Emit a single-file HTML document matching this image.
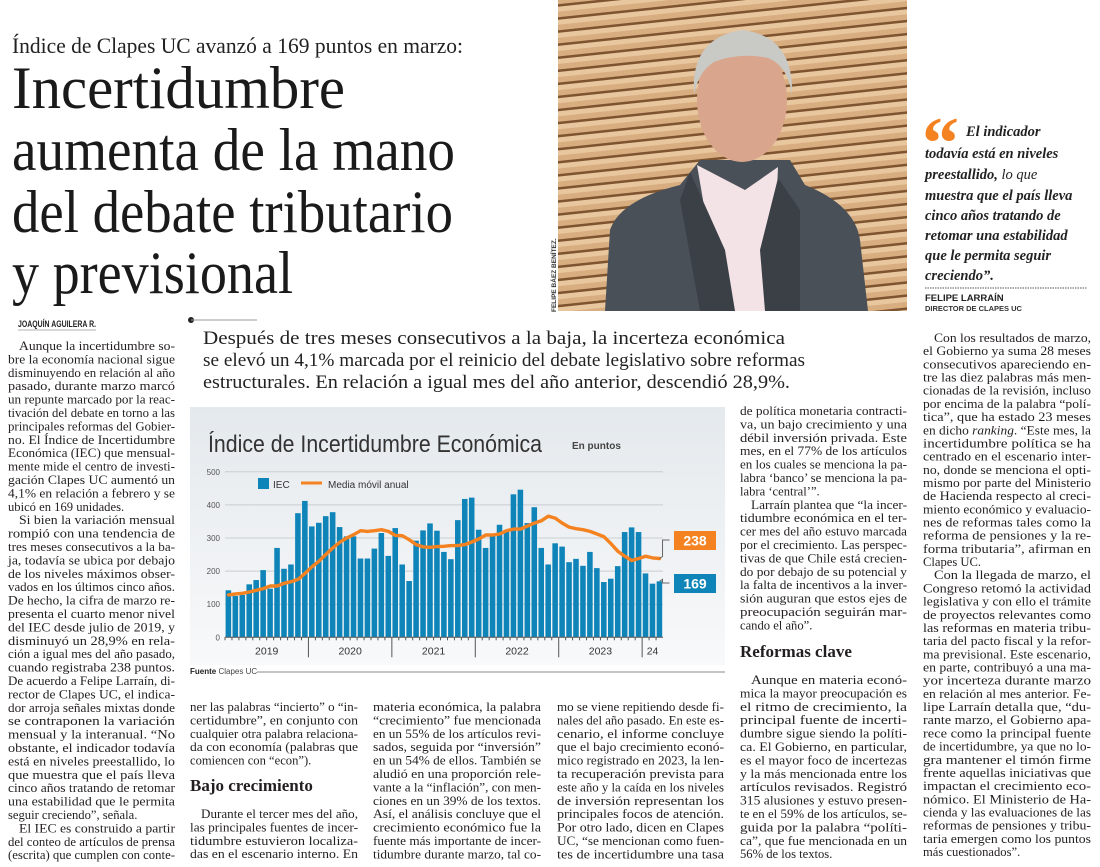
<!DOCTYPE html>
<html><head><meta charset="utf-8">
<style>
html,body{margin:0;padding:0;background:#fff;}
svg{display:block;}
.serif{font-family:"Liberation Serif",serif;}
.sans{font-family:"Liberation Sans",sans-serif;}
</style></head>
<body>
<svg id="page" width="1100" height="867" viewBox="0 0 1100 867" xmlns="http://www.w3.org/2000/svg">
<defs>
<linearGradient id="panelGrad" x1="0" y1="0" x2="0" y2="1">
<stop offset="0" stop-color="#e4e9ed"/><stop offset="1" stop-color="#f8f9fa"/>
</linearGradient>
<pattern id="slats" width="40" height="13" patternUnits="userSpaceOnUse" patternTransform="rotate(-6)">
<rect width="40" height="13" fill="#d8ad80"/>
<rect y="0" width="40" height="5" fill="#e8c69e"/>
<rect y="10.5" width="40" height="2.5" fill="#7d5330"/>
</pattern>
</defs>

<!-- headline -->
<g>
<text class="serif" x="12" y="53" font-size="22" fill="#222" textLength="451" lengthAdjust="spacingAndGlyphs">Índice de Clapes UC avanzó a 169 puntos en marzo:</text>
<text class="serif" x="12" y="108" font-size="60" fill="#1a1a1a" textLength="333" lengthAdjust="spacingAndGlyphs">Incertidumbre</text>
<text class="serif" x="12" y="170" font-size="60" fill="#1a1a1a" textLength="443" lengthAdjust="spacingAndGlyphs">aumenta de la mano</text>
<text class="serif" x="12" y="232" font-size="60" fill="#1a1a1a" textLength="441" lengthAdjust="spacingAndGlyphs">del debate tributario</text>
<text class="serif" x="12" y="293" font-size="60" fill="#1a1a1a" textLength="281" lengthAdjust="spacingAndGlyphs">y previsional</text>
<text class="sans" x="18" y="327" font-size="9" font-weight="bold" fill="#222" textLength="78" lengthAdjust="spacingAndGlyphs">JOAQUÍN AGUILERA R.</text>
<line x1="18" y1="330" x2="96" y2="330" stroke="#999" stroke-width="0.8"/>
</g>

<!-- photo -->
<g>
<rect x="558" y="0" width="349" height="311" fill="url(#slats)"/>
<path d="M605 311 L610 230 Q620 200 680 185 L700 160 L790 160 L805 185 Q855 205 860 240 L868 311 Z" fill="#4a5058"/>
<path d="M697 165 L745 190 L778 167 L772 311 L722 311 Z" fill="#f3e2e6"/>
<path d="M690 172 L725 250 L735 311 L700 311 L680 200 Z" fill="#3b4047"/>
<path d="M778 178 L760 250 L765 311 L800 311 L800 210 Z" fill="#3b4047"/>
<ellipse cx="742" cy="100" rx="45" ry="62" fill="#d9a58c"/>
<path d="M694 95 Q690 38 742 30 Q794 36 792 95 Q788 66 768 58 Q740 52 714 62 Q698 72 694 95 Z" fill="#c9c9c6"/>
<text class="sans" transform="translate(556,312) rotate(-90)" font-size="6.5" font-weight="bold" fill="#333">FELIPE BÁEZ BENÍTEZ.</text>
</g>

<!-- pull quote -->
<g>
<text class="serif" x="922" y="168" font-size="74" font-weight="bold" fill="#f58220">“</text>
<g class="serif" font-size="14.5" font-weight="bold" font-style="italic" fill="#222">
<text x="966" y="136">El indicador</text>
<text x="925" y="158">todavía está en niveles</text>
<text x="925" y="179">preestallido, <tspan font-weight="normal">lo que</tspan></text>
<text x="925" y="200">muestra que el país lleva</text>
<text x="925" y="220">cinco años tratando de</text>
<text x="925" y="240">retomar una estabilidad</text>
<text x="925" y="260">que le permita seguir</text>
<text x="925" y="280">creciendo”.</text>
</g>
<line x1="925" y1="288" x2="1087" y2="288" stroke="#555" stroke-width="1" stroke-dasharray="1.5,1"/>
<text class="sans" x="925" y="301" font-size="9.5" font-weight="bold" fill="#222">FELIPE LARRAÍN</text>
<text class="sans" x="925" y="311" font-size="7.5" font-weight="bold" fill="#333">DIRECTOR DE CLAPES UC</text>
</g>

<!-- lead -->
<g>
<circle cx="191" cy="320" r="3" fill="#222"/>
<line x1="191" y1="320" x2="257" y2="320" stroke="#999" stroke-width="1"/>
<g class="serif" font-size="18.5" fill="#222">
<text x="203" y="344" textLength="582" lengthAdjust="spacingAndGlyphs">Después de tres meses consecutivos a la baja, la incerteza económica</text>
<text x="203" y="366" textLength="602" lengthAdjust="spacingAndGlyphs">se elevó un 4,1% marcada por el reinicio del debate legislativo sobre reformas</text>
<text x="203" y="388" textLength="587" lengthAdjust="spacingAndGlyphs">estructurales. En relación a igual mes del año anterior, descendió 28,9%.</text>
</g>
</g>

<!-- chart -->
<g id="chart">
<rect x="190" y="407" width="535" height="258" fill="url(#panelGrad)"/>
<text class="sans" x="208" y="452" font-size="24" fill="#333" textLength="334" lengthAdjust="spacingAndGlyphs">Índice de Incertidumbre Económica</text>
<text class="sans" x="572" y="449" font-size="10" font-weight="bold" fill="#444">En puntos</text>
<g id="grid"></g>
<g id="bars"></g>
<g id="axis"></g>
<polyline id="maLine" fill="none" stroke="#f58220" stroke-width="3.4" stroke-linejoin="round" stroke-linecap="round"/>
<g>
<rect x="258" y="478" width="11" height="11" fill="#0f84b8"/>
<text class="sans" x="273" y="488" font-size="10" fill="#333">IEC</text>
<line x1="301" y1="483" x2="322" y2="483" stroke="#f58220" stroke-width="3"/>
<text class="sans" x="328" y="488" font-size="10" fill="#333">Media móvil anual</text>
</g>
<g id="callouts"></g>
<text class="sans" x="190" y="674" font-size="8" fill="#444"><tspan font-weight="bold" fill="#222">Fuente</tspan> Clapes UC</text>
<line x1="257" y1="672" x2="725" y2="672" stroke="#888" stroke-width="1"/>
</g>

<g id="body" class="serif" font-size="12.6" fill="#231f20"></g>
<text class="serif" x="190" y="791" font-size="17" font-weight="bold" fill="#231f20">Bajo crecimiento</text>
<text class="serif" x="740" y="657" font-size="17" font-weight="bold" fill="#231f20">Reformas clave</text>
</svg>

<script>
const categories = ["2019-01","2019-02","2019-03","2019-04","2019-05","2019-06","2019-07","2019-08","2019-09","2019-10","2019-11","2019-12",
"2020-01","2020-02","2020-03","2020-04","2020-05","2020-06","2020-07","2020-08","2020-09","2020-10","2020-11","2020-12",
"2021-01","2021-02","2021-03","2021-04","2021-05","2021-06","2021-07","2021-08","2021-09","2021-10","2021-11","2021-12",
"2022-01","2022-02","2022-03","2022-04","2022-05","2022-06","2022-07","2022-08","2022-09","2022-10","2022-11","2022-12",
"2023-01","2023-02","2023-03","2023-04","2023-05","2023-06","2023-07","2023-08","2023-09","2023-10","2023-11","2023-12",
"2024-01","2024-02","2024-03"];
const iecValues = [142,125,128,160,173,203,147,270,207,220,375,412,
335,346,366,378,333,305,305,238,238,268,315,246,
330,220,170,292,323,344,322,258,236,354,418,422,
325,270,310,340,320,432,446,345,393,270,220,284,
274,227,237,216,258,209,167,177,215,318,332,318,
193,162,169];
const movingAvg = [128,131,133,137,142,147,155,155,163,168,175,193,
213,230,250,270,287,300,310,322,320,322,325,320,
308,307,295,280,273,272,274,275,277,277,280,288,
297,309,309,312,322,327,327,336,345,352,366,360,
345,333,328,325,320,312,304,283,260,245,232,238,
245,240,238];
const yTicks = [0,100,200,300,400,500];
const yearLabels = ["2019","2020","2021","2022","2023","24"];
const calloutLabels = ["238","169"];

const NS = "http://www.w3.org/2000/svg";
const X0 = 225, X1 = 663, Y0 = 637.3, Y500 = 471.8;
const step = (X1 - X0) / categories.length;
function xScale(i){ return X0 + i * step; }
function yScale(v){ return Y0 - (v / 500) * (Y0 - Y500); }
function mk(tag, attrs, parent){ const e = document.createElementNS(NS, tag); for (const k in attrs) e.setAttribute(k, attrs[k]); parent.appendChild(e); return e; }

const grid = document.getElementById('grid');
yTicks.forEach(t => {
  const y = yScale(t);
  if (t > 0) {
    const gl = mk('line', {x1: X0, x2: X1, y1: y, y2: y, stroke: '#c9ced2', 'stroke-width': 1}, grid);
    
    
  }
  const lb = mk('text', {x: 220, y: y + 3, 'text-anchor': 'end', 'font-size': 8, fill: '#555', 'font-family': 'Liberation Sans, sans-serif'}, grid);
  lb.textContent = t;
  
  
});

const bars = document.getElementById('bars');
iecValues.forEach((v, i) => {
  const r = mk('rect', {x: xScale(i) + 0.6, y: yScale(v), width: step - 1.4, height: Y0 - yScale(v), fill: '#0f84b8'}, bars);
  
  
});

const axis = document.getElementById('axis');
mk('line', {x1: X0, x2: X1, y1: Y0, y2: Y0, stroke: '#555', 'stroke-width': 1}, axis);
categories.forEach((c, i) => {
  const x = xScale(i);
  const isYear = i % 12 === 0 && i > 0;
  const tk = mk('line', {x1: x, x2: x, y1: Y0, y2: isYear ? Y0 + 20 : Y0 + 3, stroke: '#555', 'stroke-width': 1}, axis);
  
  
});
yearLabels.forEach((yl, k) => {
  const start = k * 12, end = Math.min(start + 12, categories.length);
  const cx = (xScale(start) + xScale(end)) / 2;
  const t = mk('text', {x: cx, y: Y0 + 17, 'text-anchor': 'middle', 'font-size': 10.5, fill: '#333', 'font-family': 'Liberation Sans, sans-serif'}, axis);
  t.textContent = yl;
  
  
});

document.getElementById('maLine').setAttribute('points', movingAvg.map((v, i) => (xScale(i) + step / 2).toFixed(1) + ',' + yScale(v).toFixed(1)).join(' '));

const callouts = document.getElementById('callouts');
const lastI = categories.length - 1;
[[movingAvg[lastI], '#f58220', 531, calloutLabels[0]], [iecValues[lastI], '#0f84b8', 574, calloutLabels[1]]].forEach(([v, col, by, lab]) => {
  const lx = xScale(lastI) + step / 2, ly = yScale(v);
  const p = mk('polyline', {points: `${lx},${ly} ${lx + 3},${ly - 2} ${lx + 3},${by + 9} ${lx + 10},${by + 9}`, fill: 'none', stroke: '#666', 'stroke-width': 1}, callouts);
  
  
  const b = mk('rect', {x: 674, y: by, width: 42, height: 19, fill: col}, callouts);
  
  
  const t = mk('text', {x: 695, y: by + 14.5, 'text-anchor': 'middle', 'font-size': 14, 'font-weight': 'bold', fill: '#fff', 'font-family': 'Liberation Sans, sans-serif'}, callouts);
  t.textContent = lab;
  
  
});

const colLeft = [">Aunque la incertidumbre so-","bre la economía nacional sigue","disminuyendo en relación al año","pasado, durante marzo marcó","un repunte marcado por la reac-","tivación del debate en torno a las","principales reformas del Gobier-","no. El Índice de Incertidumbre","Económica (IEC) que mensual-","mente mide el centro de investi-","gación Clapes UC aumentó un","4,1% en relación a febrero y se","ubicó en 169 unidades.¶",
">Si bien la variación mensual","rompió con una tendencia de","tres meses consecutivos a la ba-","ja, todavía se ubica por debajo","de los niveles máximos obser-","vados en los últimos cinco años.","De hecho, la cifra de marzo re-","presenta el cuarto menor nivel","del IEC desde julio de 2019, y","disminuyó un 28,9% en rela-","ción a igual mes del año pasado,","cuando registraba 238 puntos.","De acuerdo a Felipe Larraín, di-","rector de Clapes UC, el indica-","dor arroja señales mixtas donde","se contraponen la variación","mensual y la interanual. “No","obstante, el indicador todavía","está en niveles preestallido, lo","que muestra que el país lleva","cinco años tratando de retomar","una estabilidad que le permita","seguir creciendo”, señala.¶",">El IEC es construido a partir","del conteo de artículos de prensa","(escrita) que cumplen con conte-"];
const col2a = ["ner las palabras “incierto” o “in-","certidumbre”, en conjunto con","cualquier otra palabra relaciona-","da con economía (palabras que","comiencen con “econ”).¶"];
const col2b = [">Durante el tercer mes del año,","las principales fuentes de incer-","tidumbre estuvieron localiza-","das en el escenario interno. En"];
const col3 = ["materia económica, la palabra","“crecimiento” fue mencionada","en un 55% de los artículos revi-","sados, seguida por “inversión”","en un 54% de ellos. También se","aludió en una proporción rele-","vante a la “inflación”, con men-","ciones en un 39% de los textos.","Así, el análisis concluye que el","crecimiento económico fue la","fuente más importante de incer-","tidumbre durante marzo, tal co-"];
const col4b = ["mo se viene repitiendo desde fi-","nales del año pasado. En este es-","cenario, el informe concluye","que el bajo crecimiento econó-","mico registrado en 2023, la len-","ta recuperación prevista para","este año y la caída en los niveles","de inversión representan los","principales focos de atención.","Por otro lado, dicen en Clapes","UC, “se mencionan como fuen-","tes de incertidumbre una tasa"];
const col5a = ["de política monetaria contracti-","va, un bajo crecimiento y una","débil inversión privada. Este","mes, en el 77% de los artículos","en los cuales se menciona la pa-","labra ‘banco’ se menciona la pa-","labra ‘central’”.¶",">Larraín plantea que “la incer-","tidumbre económica en el ter-","cer mes del año estuvo marcada","por el crecimiento. Las perspec-","tivas de que Chile está crecien-","do por debajo de su potencial y","la falta de incentivos a la inver-","sión auguran que estos ejes de","preocupación seguirán mar-","cando el año”.¶"];
const col5b = [">Aunque en materia econó-","mica la mayor preocupación es","el ritmo de crecimiento, la","principal fuente de incerti-","dumbre sigue siendo la políti-","ca. El Gobierno, en particular,","es el mayor foco de incertezas","y la más mencionada entre los","artículos revisados. Registró","315 alusiones y estuvo presen-","te en el 59% de los artículos, se-","guida por la palabra “políti-","ca”, que fue mencionada en un","56% de los textos.¶"];
const col6 = [">Con los resultados de marzo,","el Gobierno ya suma 28 meses","consecutivos apareciendo en-","tre las diez palabras más men-","cionadas de la revisión, incluso","por encima de la palabra “polí-","tica”, que ha estado 23 meses","en dicho *ranking*. “Este mes, la","incertidumbre política se ha","centrado en el escenario inter-","no, donde se menciona el opti-","mismo por parte del Ministerio","de Hacienda respecto al creci-","miento económico y evaluacio-","nes de reformas tales como la","reforma de pensiones y la re-","forma tributaria”, afirman en","Clapes UC.¶",">Con la llegada de marzo, el","Congreso retomó la actividad","legislativa y con ello el trámite","de proyectos relevantes como","las reformas en materia tribu-","taria del pacto fiscal y la refor-","ma previsional. Este escenario,","en parte, contribuyó a una ma-","yor incerteza durante marzo","en relación al mes anterior. Fe-","lipe Larraín detalla que, “du-","rante marzo, el Gobierno apa-","rece como la principal fuente","de incertidumbre, ya que no lo-","gra mantener el timón firme","frente aquellas iniciativas que","impactan el crecimiento eco-","nómico. El Ministerio de Ha-","cienda y las evaluaciones de las","reformas de pensiones y tribu-","taria emergen como los puntos","más cuestionados”.¶"];

const body = document.getElementById('body');
function column(lines, x, w, y0, pitch, name){
  const g = mk('g', {}, body);
  
  
  lines.forEach((raw, i) => {
    let s = raw, ind = 0, end = false;
    if (s.startsWith('>')) { s = s.slice(1); ind = 11; }
    if (s.endsWith('¶')) { s = s.slice(0, -1); end = true; }
    const t = mk('text', {x: x + ind, y: y0 + i * pitch}, g);
    const parts = s.split('*');
    parts.forEach((p, k) => {
      const ts = mk('tspan', k % 2 ? {'font-style': 'italic'} : {}, t);
      ts.textContent = p;
    });
    if (!end) { t.setAttribute('textLength', w - ind); t.setAttribute('lengthAdjust', 'spacingAndGlyphs'); }
    
    
  });
}
column(colLeft, 8, 167, 350, 13.4, 'column-1');
column(col2a, 190, 168, 711, 13.4, 'column-2-top');
column(col2b, 190, 168, 818, 13.4, 'column-2-bottom');
column(col3, 373, 168, 711, 13.4, 'column-3');
column(col4b, 557, 167, 711, 13.4, 'column-4');
column(col5a, 740, 167, 415, 13.4, 'column-5-top');
column(col5b, 740, 167, 684, 13.4, 'column-5-bottom');
column(col6, 923, 168, 342, 13.18, 'column-6');
</script>
</body></html>
